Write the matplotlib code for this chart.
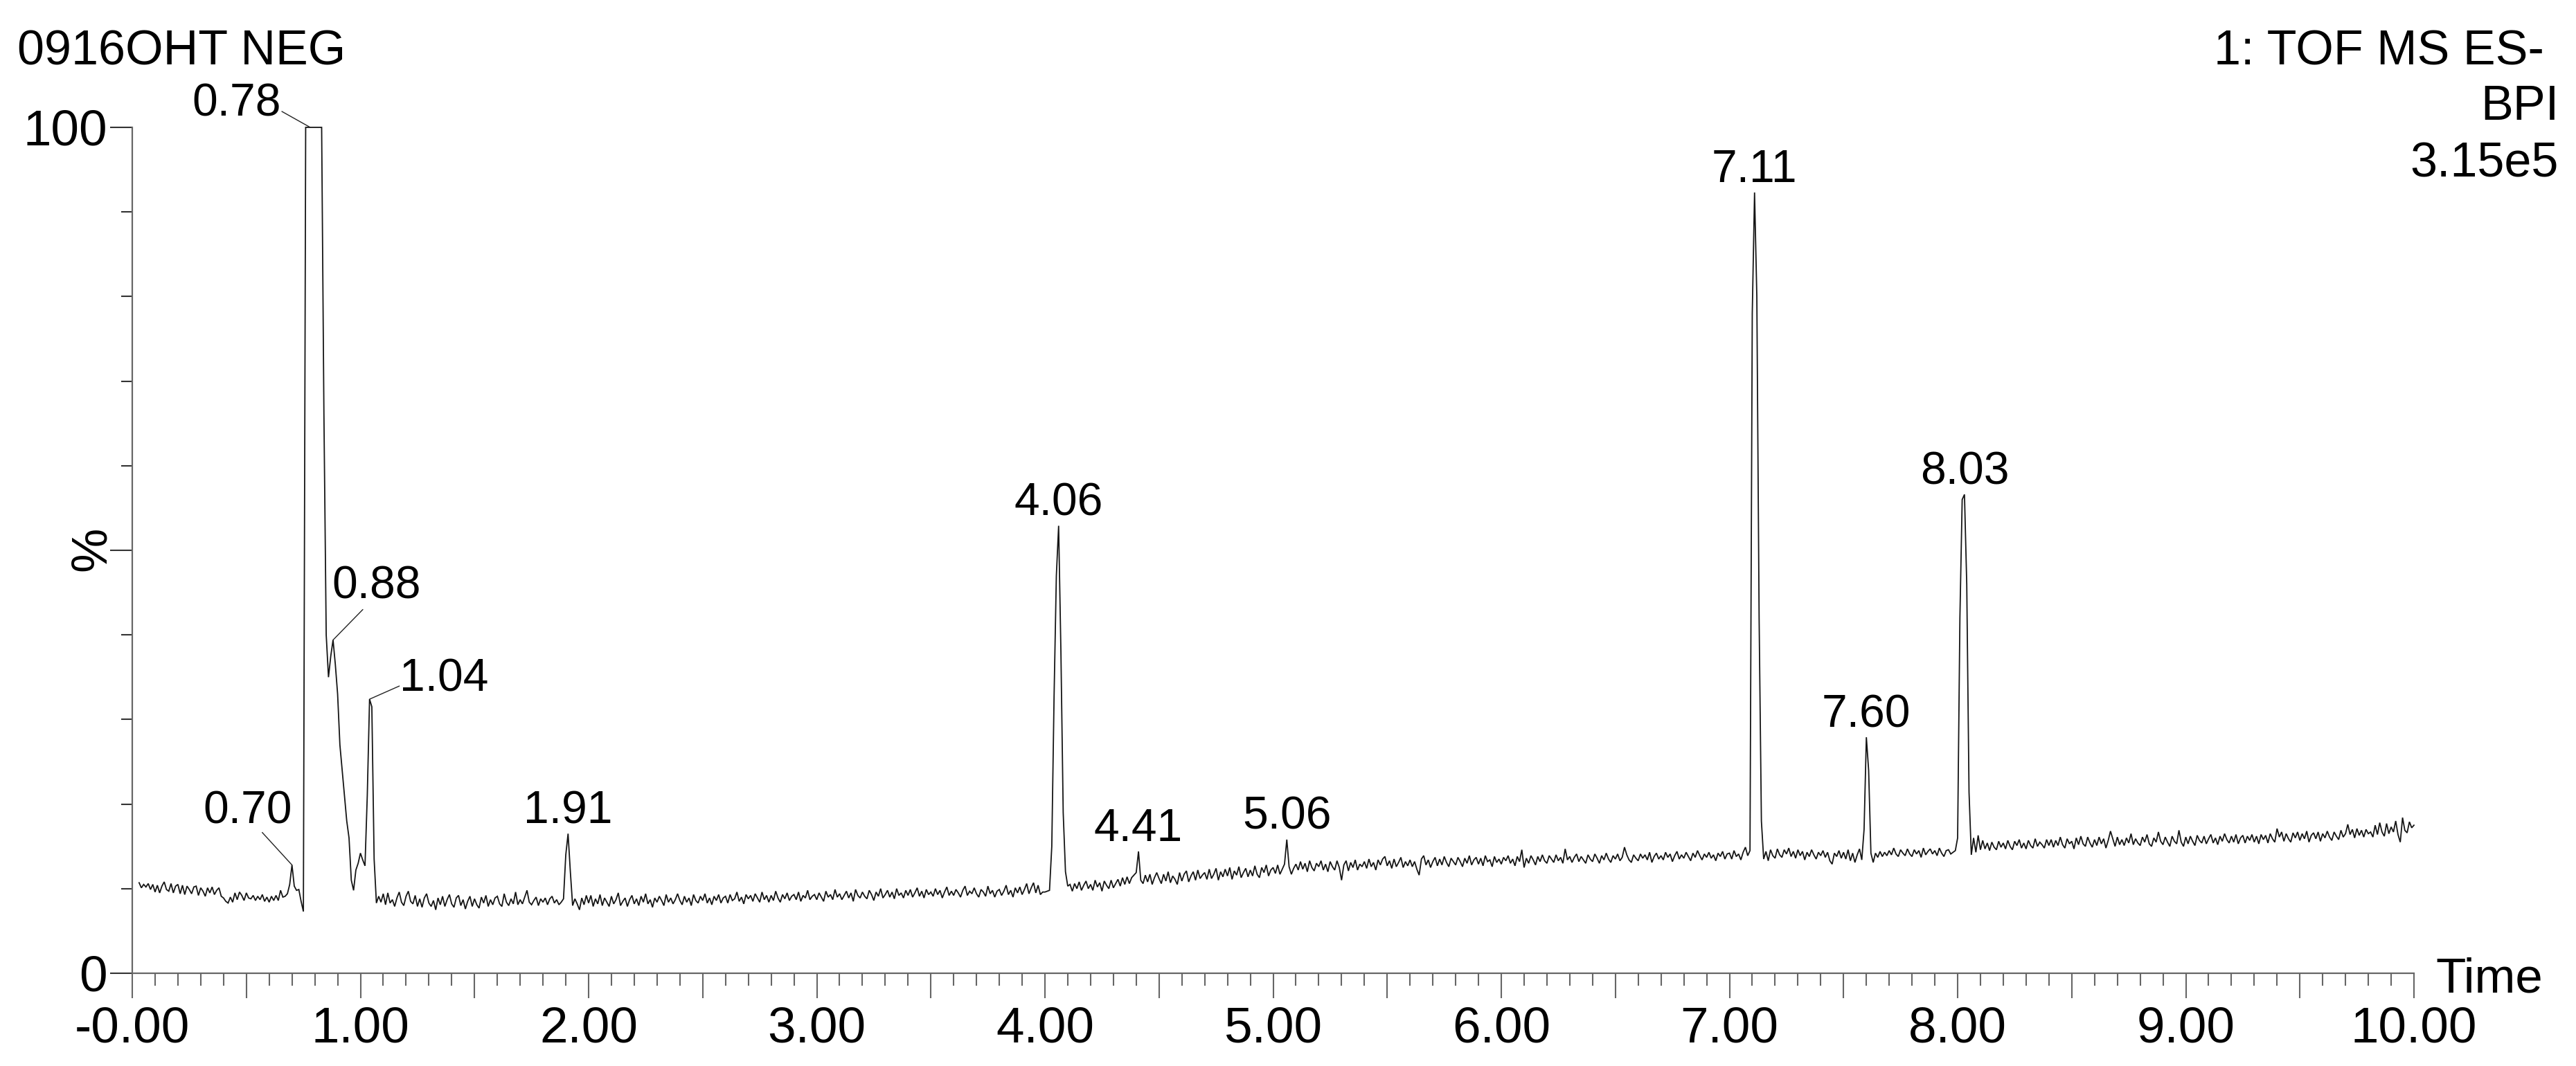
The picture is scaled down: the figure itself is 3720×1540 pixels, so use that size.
import numpy as np
import matplotlib
matplotlib.use("Agg")
import matplotlib.pyplot as plt
from matplotlib.ticker import MultipleLocator, FuncFormatter, FixedLocator

plt.rcParams['font.family'] = ['Liberation Sans', 'DejaVu Sans']

# ---------------- data (BPI, % of 3.15e5) sampled every 0.01 min ----------------
bpi_0 = [  # 0.03 - 0.99
    10.7, 10.1, 10.5, 10.2, 10.6, 9.9, 10.5, 9.6, 10.4, 9.5,
    10.3, 10.8, 9.9, 9.7, 10.6, 9.5, 10.3, 10.5, 9.4, 10.4,
    9.3, 10.3, 9.9, 9.4, 10.2, 10.3, 9.2, 10.1, 9.7, 9.1,
    10.1, 9.5, 10.2, 9.3, 9.8, 10.1, 9.1, 8.9, 8.5, 8.3,
    9.0, 8.4, 9.5, 8.7, 9.6, 9.2, 8.6, 9.5, 8.9, 8.8,
    9.2, 8.6, 9.1, 8.7, 9.3, 8.5, 9.0, 8.4, 9.1, 8.6,
    9.2, 8.6, 9.8, 9.0, 9.1, 9.4, 10.5, 12.8, 10.3, 9.8,
    9.9, 8.5, 7.3, 100, 100, 100, 100, 100, 100, 100,
    100, 66, 40, 35, 37.5, 39.4, 36.5, 33, 27, 24,
    21, 18, 16, 11, 9.8, 12.2, 13.0]
bpi_1 = [  # 1.00 - 1.99
    14.2, 13.4, 12.7, 21.0, 32.4, 31.5, 13.5, 8.3, 9.1, 8.4,
    9.4, 8.1, 9.5, 8.3, 8.7, 7.9, 8.9, 9.6, 8.4, 8.0,
    9.1, 9.7, 8.5, 8.2, 9.2, 7.9, 8.8, 7.8, 8.9, 9.4,
    8.3, 7.9, 8.6, 7.5, 8.9, 8.1, 9.1, 7.9, 8.7, 9.3,
    8.2, 7.8, 8.9, 9.2, 8.0, 8.7, 7.6, 8.5, 9.1, 7.9,
    8.8, 8.1, 7.7, 9.0, 8.3, 9.2, 7.9, 8.7, 8.1, 8.9,
    9.1, 8.2, 7.9, 9.4, 8.4, 8.0, 8.8, 8.2, 9.6, 8.1,
    8.7, 8.2, 9.0, 9.8, 8.4, 8.1, 8.6, 9.0, 8.0, 8.8,
    8.4, 8.9, 8.1, 8.8, 9.1, 8.3, 8.7, 8.1, 8.4, 8.8,
    14.0, 16.5, 12.0, 8.0, 8.8, 8.2, 7.5, 8.9, 8.1, 9.2]
bpi_2 = [  # 2.00 - 2.99
    8.3, 9.2, 7.9, 8.8, 8.2, 9.3, 8.0, 8.9, 8.4, 7.9,
    9.1, 8.2, 8.7, 9.5, 8.0, 8.5, 8.9, 7.9, 8.7, 9.2,
    8.2, 8.8, 8.0, 9.1, 8.4, 9.4, 8.2, 8.7, 7.8, 8.9,
    8.4, 9.1, 8.6, 8.0, 9.3, 8.4, 8.9, 8.2, 8.7, 9.4,
    8.6, 8.1, 9.1, 8.4, 8.9, 8.0, 9.3, 8.6, 8.3, 9.1,
    8.6, 9.4, 8.3, 8.9, 8.1, 9.1, 8.6, 9.3, 8.3, 8.9,
    9.1, 8.3, 9.3, 8.6, 8.8, 9.6, 8.5, 9.0, 8.2, 9.3,
    8.8, 9.2, 8.5, 9.4, 8.9, 8.4, 9.6, 8.7, 9.2, 8.4,
    9.2, 8.6, 9.7, 8.9, 8.4, 9.3, 8.8, 9.5, 8.6, 9.1,
    9.3, 8.7, 9.6, 8.5, 9.2, 8.9, 9.8, 8.7, 9.1, 9.3]
bpi_3 = [  # 3.00 - 3.99
    8.7, 9.5, 9.0, 8.5, 9.7, 9.0, 9.3, 8.7, 9.9, 9.0,
    9.4, 8.7, 9.2, 9.7, 8.9, 9.5, 8.5, 9.9, 9.2, 8.9,
    9.6, 9.1, 8.8, 9.8, 9.3, 8.6, 9.6, 9.1, 10.0, 8.9,
    9.3, 9.8, 9.0, 9.6, 8.8, 10.0, 9.2, 9.5, 8.9, 9.8,
    9.2, 9.9, 9.0, 9.5, 10.1, 9.1, 9.7, 8.9, 9.9, 9.3,
    9.6, 9.1, 10.0, 9.3, 9.8, 8.9, 9.6, 10.2, 9.2, 9.7,
    9.2, 9.9, 9.5, 9.0, 9.8, 10.3, 9.2, 9.7, 9.4, 10.1,
    9.4, 9.0, 9.9, 9.6, 9.1, 10.3, 9.4, 9.8, 9.0, 9.7,
    9.9, 9.2, 9.7, 10.4, 9.3, 9.8, 9.0, 10.1, 9.5, 10.2,
    9.3, 9.9, 10.6, 9.4, 10.1, 10.7, 9.5, 10.4, 9.3, 9.6]
bpi_4 = [  # 4.00 - 4.99
    9.6, 9.7, 9.8, 15.0, 32.7, 47.0, 52.9, 38.0, 19.0, 12.0,
    10.3, 10.5, 9.7, 10.6, 10.0, 10.8, 9.8, 10.4, 10.9, 10.0,
    10.5, 9.8, 11.0, 10.2, 10.7, 9.7, 10.9, 10.4, 10.0, 11.0,
    10.1, 10.6, 11.1, 10.3, 11.3, 10.5, 11.4, 10.6, 11.3, 11.6,
    11.9, 14.4, 11.0, 10.6, 11.6, 10.8, 11.7, 10.5, 11.3, 11.9,
    11.2, 10.6, 11.7, 10.9, 12.0, 10.7, 11.5, 11.1, 10.5, 11.9,
    10.9, 11.7, 12.1, 10.8, 11.5, 12.0, 11.0, 12.2, 11.2, 11.6,
    11.9, 11.1, 12.3, 11.2, 11.7, 12.4, 11.0, 12.0, 11.4, 12.3,
    11.5, 12.5, 11.1, 12.1, 11.6, 12.6, 11.3, 11.9, 12.4, 11.4,
    12.2, 11.5, 12.7, 11.7, 11.3, 12.5, 11.9, 12.8, 11.5, 12.2]
bpi_5 = [  # 5.00 - 5.99
    12.5, 11.8, 12.8, 11.7, 12.3, 12.9, 15.8, 12.6, 11.7, 12.4,
    12.9, 12.2, 13.2, 12.3, 13.0, 12.0, 13.3, 12.5, 12.1, 13.0,
    12.6, 13.3, 12.2, 12.9, 12.0, 13.2, 12.6, 12.2, 13.3, 12.5,
    11.0, 12.8, 13.3, 12.1, 13.1, 12.5, 13.4, 12.2, 12.9, 12.6,
    13.2, 12.4, 13.5, 12.6, 13.1, 12.2, 13.4, 12.8, 13.5, 13.8,
    12.7, 13.3, 12.4, 13.5, 12.6, 13.1, 13.7, 12.5, 13.2, 12.7,
    13.4, 12.6, 13.2, 12.3, 11.6, 13.5, 13.9, 12.8, 13.4, 12.5,
    13.2, 13.7, 12.7, 13.5, 12.8, 13.8, 13.1, 12.6, 13.6, 13.2,
    12.8, 13.7, 13.2, 12.6, 13.6, 13.0, 13.9, 12.8, 13.4, 13.7,
    12.9, 13.6, 12.7, 13.9, 13.2, 13.4, 12.6, 13.8, 13.1, 13.5]
bpi_6 = [  # 6.00 - 6.99
    12.9, 13.7, 13.3, 13.9, 13.0, 13.5, 12.7, 13.8, 13.2, 14.6,
    12.5, 13.6, 13.0, 13.9, 13.4, 12.8, 13.8, 13.2, 14.0, 13.3,
    13.0, 13.9, 13.5, 13.1, 14.0, 13.3, 13.7, 13.0, 14.7, 13.4,
    13.8, 13.1, 13.7, 14.1, 13.2, 13.8, 13.4, 13.0, 14.0, 13.5,
    13.2, 14.1, 13.6, 13.0, 13.9, 13.4, 14.2, 13.5, 13.1, 13.9,
    13.5, 14.1, 13.3, 13.7, 14.9, 14.0, 13.4, 13.1, 14.0, 13.6,
    13.3, 14.1, 13.6, 14.0, 13.4, 14.3, 13.1, 13.8, 14.2, 13.5,
    13.9, 13.4, 14.3, 13.7, 14.1, 13.2, 13.9, 14.4, 13.5, 14.0,
    13.6, 14.3, 13.8, 13.3, 14.2, 13.7, 14.5, 13.9, 13.4, 14.1,
    13.7, 14.3, 13.6, 14.0, 13.3, 14.2, 13.8, 14.4, 13.5, 14.1]
bpi_7 = [  # 7.00 - 7.99
    14.2, 13.5, 14.5, 13.8, 14.1, 13.4, 14.3, 14.9, 13.9, 14.5,
    78.0, 92.3, 80.0, 42.0, 18.0, 13.5, 14.4, 13.3, 14.6, 13.9,
    13.6, 14.7, 14.0, 13.7, 14.6, 14.1, 14.8, 13.8, 14.4, 13.6,
    14.6, 13.9, 14.4, 13.4, 14.3, 13.8, 14.6, 14.0, 13.5, 14.3,
    13.9, 14.5, 13.7, 14.3, 13.3, 12.9, 14.2, 13.8, 14.5, 13.6,
    14.3, 13.5, 14.6, 13.3, 14.2, 13.1, 14.0, 14.7, 13.4, 17.0,
    27.9, 24.0, 14.2, 13.1, 14.2, 13.7, 14.4, 13.8, 14.3, 13.9,
    14.5, 14.0, 14.8, 14.1, 13.8, 14.6, 14.2, 13.9, 14.7, 14.1,
    13.8, 14.6, 14.1, 14.5, 13.7, 14.8, 14.0, 14.4, 14.7, 14.1,
    14.5, 13.9, 14.8, 14.2, 13.8, 14.5, 14.6, 14.1, 14.3, 14.5]
bpi_8 = [  # 8.00 - 8.99
    16.0, 42.0, 56.0, 56.6, 46.0, 21.4, 14.0, 16.0, 14.3, 16.3,
    14.6, 15.7, 14.7, 15.4, 14.5, 15.5, 14.9, 14.6, 15.6, 14.9,
    15.4, 14.7, 15.7, 15.0, 14.6, 15.6, 15.1, 15.8, 14.8, 15.4,
    14.7, 15.7, 15.1, 14.8, 15.9, 15.0, 15.5, 15.2, 14.8, 15.8,
    15.1, 15.8, 14.9, 15.7, 15.1, 16.1, 15.2, 14.8, 15.9, 15.3,
    15.6, 14.7, 16.0, 15.2, 16.2, 15.3, 15.0, 16.1, 15.4, 14.9,
    15.8, 15.1, 16.1, 15.3, 15.9, 14.8, 15.7, 16.8, 15.9, 15.0,
    16.1, 15.2, 15.8, 15.1, 16.0, 15.4, 16.5, 15.2, 15.9, 15.4,
    15.1, 16.1, 15.5, 16.4, 15.3, 15.0, 16.0, 15.5, 16.7, 15.6,
    15.2, 16.1, 15.5, 15.0, 16.2, 15.6, 15.3, 16.9, 15.5, 15.0]
bpi_9 = [  # 9.00 - 10.00
    16.1, 15.3, 16.2, 15.6, 15.1, 16.3, 15.7, 15.4, 16.2, 15.3,
    15.9, 16.4, 15.4, 16.0, 15.2, 16.2, 15.6, 16.5, 15.8, 15.4,
    16.2, 15.5, 16.4, 15.3, 16.0, 16.3, 15.4, 16.2, 15.7, 16.4,
    15.5, 16.2, 15.3, 16.4, 15.8, 16.3, 15.4, 16.5, 15.9, 15.5,
    17.1, 16.1, 16.7, 15.6, 16.5, 15.9, 15.5, 16.6, 16.0, 16.7,
    15.7, 16.5, 15.9, 16.8, 15.5, 16.3, 16.6, 15.9, 16.7, 15.6,
    16.5, 16.0, 16.8, 16.1, 15.7, 16.7, 16.2, 15.8, 16.9, 16.1,
    16.5, 17.6, 16.4, 17.0, 16.0, 17.1, 16.3, 16.9, 16.1, 17.0,
    16.5, 16.7, 16.1, 17.5, 16.4, 17.8, 16.7, 16.2, 17.7, 16.5,
    17.3, 16.7, 18.0, 16.4, 15.5, 18.4, 16.9, 16.6, 17.9, 17.2, 17.5]

block_starts = [0.03, 1.0, 2.0, 3.0, 4.0, 5.0, 6.0, 7.0, 8.0, 9.0]
scan_step = 0.01
blocks = [bpi_0, bpi_1, bpi_2, bpi_3, bpi_4, bpi_5, bpi_6, bpi_7, bpi_8, bpi_9]

peak_labels = ["0.70", "0.78", "0.88", "1.04", "1.91", "4.06", "4.41",
               "5.06", "7.11", "7.60", "8.03"]

title_left = "0916OHT NEG"
header_right = ["1: TOF MS ES-", "BPI", "3.15e5"]
x_label = "Time"
y_label = "%"

# ---------------- assemble series ----------------
times = np.concatenate([s + np.arange(len(b)) * scan_step for s, b in zip(block_starts, blocks)])
intensity = np.concatenate([np.asarray(b, dtype=float) for b in blocks])

# ---------------- figure ----------------
W, H = 3720, 1540
fig = plt.figure(figsize=(W / 100, H / 100), dpi=100)
fig.patch.set_facecolor('white')
ax = fig.add_axes([191 / W, 134 / H, 3295 / W, 1222 / H])

ax.plot(times, intensity, color='#151515', lw=1.3, clip_on=False, solid_joinstyle='miter')

ax.set_xlim(0, 10)
ax.set_ylim(0, 100)
for s in ['top', 'right']:
    ax.spines[s].set_visible(False)
for s in ['left', 'bottom']:
    ax.spines[s].set_color('#666666')
    ax.spines[s].set_linewidth(1.6)


def fmt_x(v, pos):
    if abs(v - round(v)) < 1e-6:
        return '-0.00' if round(v) == 0 else '%.2f' % v
    return ''


ax.xaxis.set_major_locator(MultipleLocator(0.5))
ax.xaxis.set_minor_locator(MultipleLocator(0.1))
ax.xaxis.set_major_formatter(FuncFormatter(fmt_x))
ax.yaxis.set_major_locator(FixedLocator([0, 50, 100]))
ax.yaxis.set_minor_locator(MultipleLocator(10))
ax.yaxis.set_major_formatter(FuncFormatter(lambda v, p: '%d' % v if v in (0, 100) else ''))

ax.tick_params(axis='x', which='major', direction='out', length=26, width=1.5,
               color='#666666', labelsize=52.5, pad=8)
ax.tick_params(axis='x', which='minor', direction='out', length=13, width=1.5, color='#666666')
ax.tick_params(axis='y', which='major', direction='out', length=23, width=1.5,
               color='#333333', labelsize=52.5, pad=3)
ax.tick_params(axis='y', which='minor', direction='out', length=11.5, width=1.5, color='#333333')

# ---------------- texts ----------------
fig.text(25 / W, 1 - 93 / H, title_left, fontsize=50.5, ha='left', va='baseline')
fig.text(3674 / W, 1 - 93 / H, header_right[0], fontsize=50.5, ha='right', va='baseline')
fig.text(3695 / W, 1 - 173 / H, header_right[1], fontsize=50.5, ha='right', va='baseline')
fig.text(3695 / W, 1 - 255 / H, header_right[2], fontsize=50.5, ha='right', va='baseline')
fig.text(3517 / W, 1 - 1433 / H, x_label, fontsize=51, ha='left', va='baseline')
fig.text(133 / W, 1 - 793 / H, y_label, fontsize=52, ha='center', va='center', rotation=90)

# label placement (pixel offsets from the apex) and leader-line starts
text_offsets = {"0.70": (-64, 60), "0.78": (-106, 16), "0.88": (63, 60), "1.04": (108, 12)}
leader_starts = {"0.70": (-43, 47), "0.78": (-41, 23), "0.88": (43, 44), "1.04": (43, 19)}

for lab in peak_labels:
    t = float(lab)
    i = int(np.argmin(np.abs(times - t)))
    xy = (times[i], intensity[i])
    dx, dy = text_offsets.get(lab, (0, 15))
    ax.annotate(lab, xy=xy, xytext=(dx, dy), textcoords='offset pixels',
                ha='center', va='baseline', fontsize=47.5, annotation_clip=False)
    if lab in leader_starts:
        ax.annotate('', xy=xy, xytext=leader_starts[lab], textcoords='offset pixels',
                    annotation_clip=False,
                    arrowprops=dict(arrowstyle='-', color='#222222', lw=1.0,
                                    shrinkA=0, shrinkB=0))

fig.savefig('out.png', dpi=100, facecolor='white')
